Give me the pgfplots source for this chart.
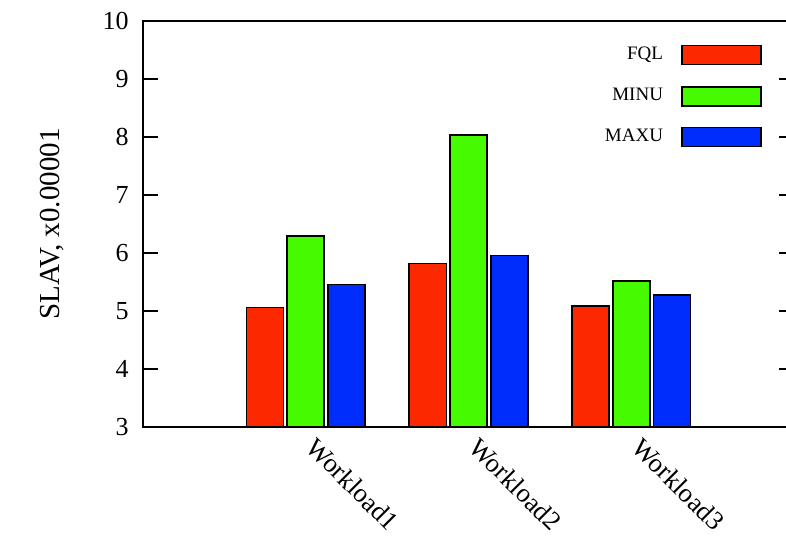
\documentclass[border=0pt]{standalone}
\usepackage{pgfplots}
\pgfplotsset{compat=1.18}
\usepackage{fontspec}
\setmainfont{Liberation Serif}
\definecolor{cred}{RGB}{252,40,0}
\definecolor{cgreen}{RGB}{70,250,0}
\definecolor{cblue}{RGB}{0,45,252}
\begin{document}
\begin{tikzpicture}
\begin{axis}[
  scale only axis,
  width=325.5pt, height=203pt,
  xmin=0, xmax=4, ymin=3, ymax=10,
  ytick={3,4,5,6,7,8,9,10},
  xtick={1,2,3},
  xticklabels={Workload1,Workload2,Workload3},
  x tick style={draw=none},
  tick align=inside,
  major tick length=7.5pt,
  axis line style={line width=0.75pt},
  y tick style={line width=0.75pt, black},
  /pgf/number format/assume math mode=true,
  yticklabel style={font=\fontsize{13}{15}\selectfont, inner sep=0pt, xshift=-7pt},
  xticklabel style={font=\fontsize{13.3}{15}\selectfont, rotate=-45, anchor=north west, inner sep=0pt, xshift=2pt, yshift=6.6pt},
  ylabel={SLAV, x0.00001},
  ylabel style={font=\fontsize{14.5}{16}\selectfont, at={(axis description cs:-0.14,0.5)}, anchor=center},
  ybar, bar width=18.5pt,
  every axis plot/.append style={draw=black, line width=0.8pt},
  legend plot pos=right,
  legend cell align=right,
  legend image code/.code={\draw[#1, line width=0.8pt] (0pt,-4.75pt) rectangle (39.5pt,4.75pt);},
  legend style={draw=none, fill=none, at={(rel axis cs:1,1)}, anchor=north east, xshift=-16pt, yshift=-11pt,
    font=\fontsize{9.5}{11}\selectfont, row sep=8.75pt, column sep=7pt, inner sep=0pt,
    nodes={inner sep=2pt}},
]
\addplot[fill=cred, bar shift=-20.35pt] coordinates {(1,5.06) (2,5.82) (3,5.09)};
\addlegendentry{FQL}
\addplot[fill=cgreen, bar shift=0pt] coordinates {(1,6.29) (2,8.03) (3,5.52)};
\addlegendentry{MINU}
\addplot[fill=cblue, bar shift=20.35pt] coordinates {(1,5.46) (2,5.96) (3,5.28)};
\addlegendentry{MAXU}
\end{axis}
\pgfresetboundingbox
\path[use as bounding box] ([xshift=-71.5pt,yshift=-56pt]current axis.south west) rectangle ([xshift=-4pt,yshift=10.5pt]current axis.north east);
\end{tikzpicture}
\end{document}
